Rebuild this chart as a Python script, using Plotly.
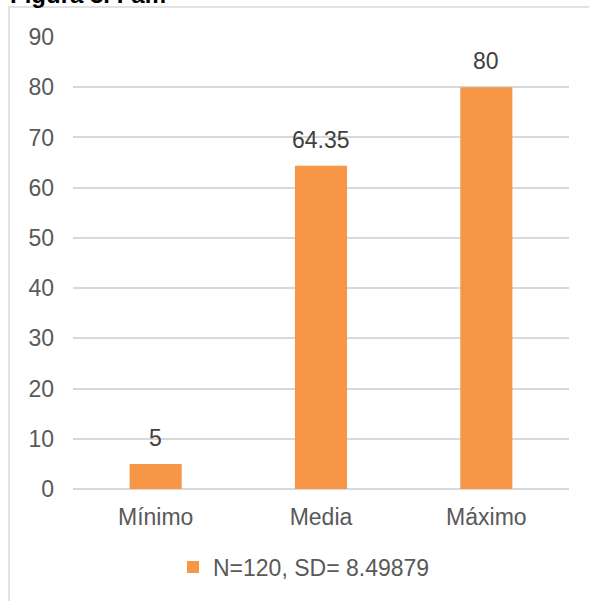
import plotly.graph_objects as go

categories = ["Mínimo", "Media", "Máximo"]
values = [5, 64.35, 80]
value_labels = ["5", "64.35", "80"]
series_name = "N=120, SD= 8.49879"
y_ticks = [0, 10, 20, 30, 40, 50, 60, 70, 80, 90]
title_text = "Figura 3. Fam"

W, H = 589, 601
L, R, T, B = 73, 20, 37, 112
pw, ph = W - L - R, H - T - B

def px_x(p):
    return (p - L) / pw

def px_y(p):
    return (H - B - p) / ph

FONT = "Liberation Sans, Arial, sans-serif"
ORANGE = "#F79646"
GRID = "#d9d9d9"

fig = go.Figure()
fig.add_trace(go.Bar(
    x=categories, y=values, name=series_name,
    marker=dict(color=ORANGE, line=dict(width=0)),
    showlegend=True,
))

for c, v, t in zip(categories, values, value_labels):
    fig.add_annotation(
        x=c, y=v, xref="x", yref="y", text=t, showarrow=False,
        yanchor="bottom", yshift=11,
        font=dict(family=FONT, size=23, color="#404040"),
    )

fig.add_annotation(
    xref="paper", yref="paper", x=px_x(8), y=px_y(10), xanchor="left", yanchor="bottom",
    text="<b>" + title_text + "</b>", showarrow=False,
    font=dict(family=FONT, size=24, color="#000000"),
)

fig.add_shape(
    type="path", xref="paper", yref="paper",
    path=f"M {px_x(9)} {px_y(605)} L {px_x(9)} {px_y(7)} L {px_x(595)} {px_y(7)}",
    line=dict(color=GRID, width=1.5),
)

fig.update_layout(
    width=W, height=H,
    margin=dict(l=L, r=R, t=T, b=B, pad=0),
    paper_bgcolor="white", plot_bgcolor="white",
    bargap=0.685,
    font=dict(family=FONT, size=23, color="#595959"),
    legend=dict(
        orientation="h", x=px_x(304), y=px_y(567), xanchor="center", yanchor="middle",
        font=dict(family=FONT, size=23, color="#595959"),
        itemwidth=30, bgcolor="rgba(0,0,0,0)",
    ),
    xaxis=dict(
        showgrid=False, showline=False, ticks="", ticklabelstandoff=12,
        tickfont=dict(family=FONT, size=23, color="#595959"),
    ),
    yaxis=dict(
        range=[0, 90], tickvals=y_ticks, showgrid=True, gridcolor=GRID, gridwidth=1.5,
        zeroline=True, zerolinecolor=GRID, zerolinewidth=1.5, showline=False,
        ticks="", ticklabelstandoff=18,
        tickfont=dict(family=FONT, size=23, color="#595959"),
    ),
)

fig.write_html("out.html")
